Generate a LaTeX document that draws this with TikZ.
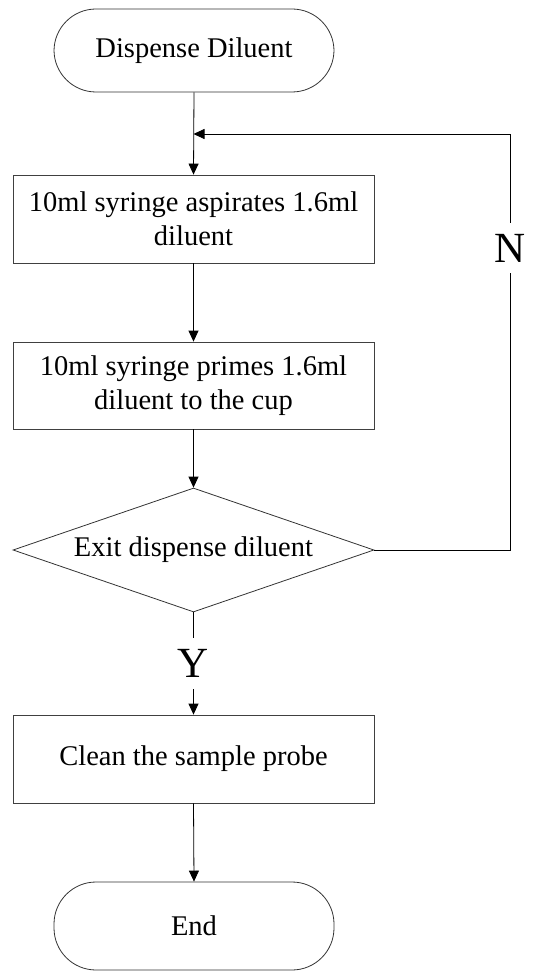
\documentclass[tikz,border=0pt]{standalone}
\usepackage{fontspec}
\setmainfont{Liberation Serif}
\usetikzlibrary{arrows.meta,shapes.geometric}
\begin{document}
\begin{tikzpicture}[x=1pt,y=-1pt,
  every node/.style={font=\fontsize{28.5}{34}\selectfont},
  terminal/.style={draw=black!80, line width=0.8pt, rectangle, rounded corners=42pt,
    minimum width=280pt, inner sep=0pt, align=center},
  procbox/.style={draw=black!75, line width=0.8pt, rectangle, minimum width=361pt,
    minimum height=88pt, inner sep=0pt, align=center},
  decision/.style={draw=black!80, line width=0.8pt, diamond, aspect=2.91,
    minimum width=361pt, minimum height=124pt, inner sep=0pt},
  flow/.style={line width=0.8pt, -{Triangle[length=11pt,width=10pt]}},
  link/.style={line width=0.8pt},
  branch/.style={fill=white, inner xsep=2pt, inner ysep=11pt,
    font=\fontsize{43}{43}\selectfont}]
  \useasboundingbox (0,0) rectangle (541,971);

  % steps of the procedure
  \node[terminal, minimum height=83pt] (start) at (194,50.5) {Dispense Diluent};
  \node[procbox] (asp) at (193.5,219) {10ml syringe aspirates 1.6ml\\diluent};
  \node[procbox, minimum height=87pt] (prime) at (193.5,385.5) {10ml syringe primes 1.6ml\\diluent to the cup};
  \node[decision] (exit) at (193.5,550) {Exit dispense diluent};
  \node[procbox] (clean) at (193.5,759) {Clean the sample probe};
  \node[terminal, minimum height=88pt] (end) at (194,926) {End};

  % return path of the loop
  \coordinate (join) at (193.5,134);
  \coordinate (rb) at (510,550);
  \coordinate (rt) at (510,134);

  % main flow
  \draw[flow] (start.south) -- (asp.north);
  \draw[flow] (asp.south) -- (prime.north);
  \draw[flow] (prime.south) -- (exit.north);
  \draw[flow] (exit.south) -- node[branch] (yes) {Y} (clean.north);
  \draw[flow] (clean.south) -- (end.north);

  % "no" branch back to the top
  \draw[link] (exit.east) -- (rb) -- node[branch, pos=0.726] (no) {N} (rt);
  \draw[flow] (rt) -- (join);
\end{tikzpicture}
\end{document}
